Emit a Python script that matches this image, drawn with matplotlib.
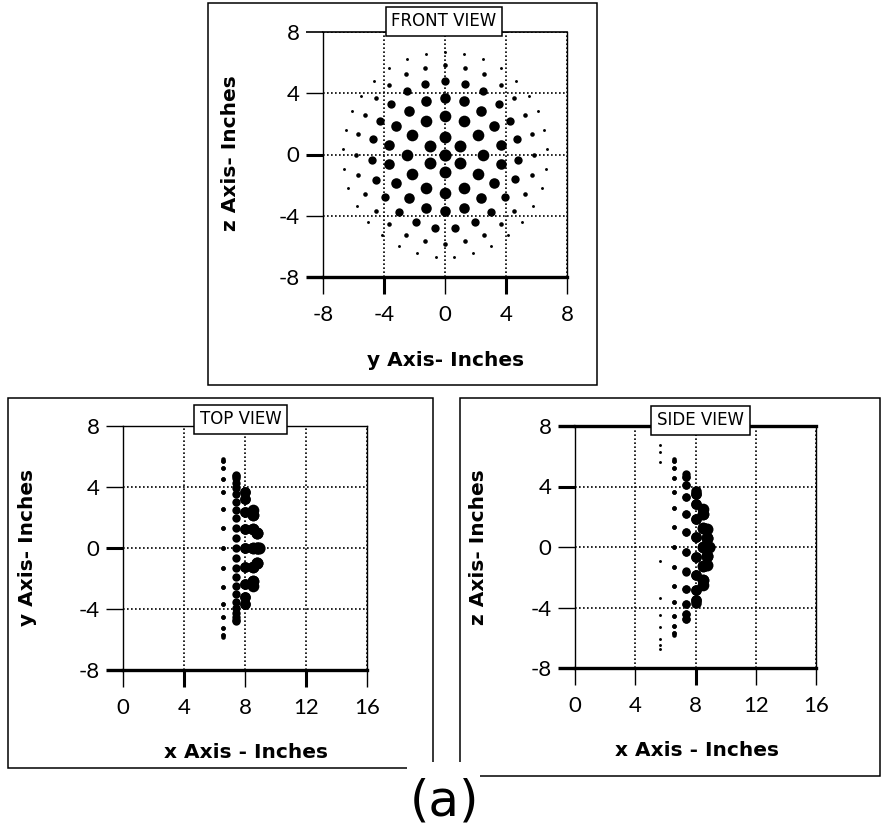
import matplotlib.pyplot as plt
import numpy as np
from matplotlib.patches import Rectangle

plt.rcParams['axes.unicode_minus'] = False #plain hyphen for the minus sign
plt.rcParams['font.family'] = ['Lato', 'DejaVu Sans']

W, H = 882, 834 #figure size in pixels

# Points read from the front view: one ring per entry (radius in inches, angles in degrees)
ring_radius = [0.0, 1.17, 2.5, 3.7, 4.82, 5.83, 6.7]
ring_angles = [
    [0],
    [90, 150, 210, 270, 330, 30],
    [90, 120, 150, 180, 210, 240, 270, 300, 330, 0, 30, 60],
    [90, 110, 130, 150, 170, 190, 210, 230, 250, 270, 290, 310, 330, 350, 10, 30, 50, 70],
    [90, 106, 121, 137, 153, 168, 184, 200, 215, 231, 247, 262, 278, 294, 309, 325, 341, 356,
     12, 27, 43, 59, 74],
    [90, 103, 116, 129, 141, 154, 167, 180, 193, 206, 219, 231, 244, 257, 270, 283, 296, 309,
     321, 334, 347, 0, 13, 26, 39, 51, 64, 77],
    [90, 101, 112, 123, 134, 145, 155, 166, 177, 188, 199, 210, 221, 232, 243, 254, 265, 275,
     286, 297, 308, 319, 330, 341, 352, 3, 14, 25, 35, 46, 57, 68, 79],
]
ring_depth = [8.9, 8.78, 8.5, 8.02, 7.4, 6.58, 5.65] #x position of every ring (top / side views)
ring_dot = [8.8, 8.6, 8.4, 7.6, 6.0, 3.3, 2.1] #dot size of every ring

side_outer_z = [6.73, 6.29, 5.63, -0.95, -3.38, -4.48, -5.3, -6.07, -6.5, -6.73] #outer ring dots seen in side view

front_ticks = [-8, -4, 0, 4, 8]
depth_ticks = [0, 4, 8, 12, 16]


def fx(px): #pixel -> figure fraction
    return px / W

def fy(py):
    return 1 - py / H

def px_axes(left, top, right, bottom):
    return fig.add_axes([fx(left), fy(bottom), (right - left) / W, (bottom - top) / H])

def style_axes(ax, xlim, xticks, xw, yw, top_lw):
    ax.set_xlim(xlim)
    ax.set_ylim(-8, 8)
    ax.set_xticks(xticks)
    ax.set_yticks(front_ticks)
    ax.tick_params(direction='out', length=12, width=1.0, labelsize=16)
    ax.tick_params(axis='x', pad=8)
    ax.tick_params(axis='y', pad=5)
    ax.spines['left'].set_linewidth(1.0)
    ax.spines['right'].set_linewidth(1.0)
    ax.spines['top'].set_linewidth(top_lw)
    ax.spines['bottom'].set_linewidth(2.4)
    ax.grid(True, color='black', linestyle=(0, (1.0, 1.4)), linewidth=1.2)
    for t, w in zip(ax.xaxis.get_major_ticks(), xw):
        t.tick1line.set_markeredgewidth(w)
    for t, w in zip(ax.yaxis.get_major_ticks(), yw):
        t.tick1line.set_markeredgewidth(w)

def view_label(ax, x, y, txt):
    ax.text(x, y, txt, transform=ax.transAxes, ha='center', va='center', fontsize=12,
            family='DejaVu Sans', fontweight='normal', zorder=10, clip_on=False,
            bbox=dict(boxstyle='square,pad=0.35', fc='white', ec='black', lw=1.1))

def axis_text(px, py, txt, rot=0):
    fig.text(fx(px), fy(py), txt, ha='center', va='center', rotation=rot, fontsize=14.5,
             family='DejaVu Sans', fontweight='bold')


fig = plt.figure(figsize=(W / 100, H / 100), dpi=100)

# panel frames
for l, t, r, b in [(208, 3, 597, 385), (8, 398, 433, 768), (460, 398, 880, 776)]:
    fig.add_artist(Rectangle((fx(l), fy(b)), (r - l) / W, (b - t) / H, transform=fig.transFigure,
                             fill=False, ec='black', lw=1.1))

ax_front = px_axes(323, 32, 567, 277)
ax_top = px_axes(123, 426, 367, 670)
ax_side = px_axes(575, 426, 816, 668)

style_axes(ax_front, (-8, 8), front_ticks, [1, 2.2, 1, 2.2, 1], [2.4, 1, 2.2, 1, 1.2], 1.2)
style_axes(ax_top, (0, 16), depth_ticks, [1, 2.2, 1, 2.2, 1], [2.4, 1, 2.2, 1, 1], 1.0)
style_axes(ax_side, (0, 16), depth_ticks, [1, 1, 2.2, 1, 1], [2.4, 1, 1, 2.2, 2.4], 2.4)

for i in range(len(ring_radius)):
    a = np.radians(ring_angles[i])
    y_pos = ring_radius[i] * np.cos(a) #horizontal in front view
    z_pos = ring_radius[i] * np.sin(a) #vertical in front view
    x_pos = np.full(len(a), ring_depth[i])
    ms = ring_dot[i]
    ax_front.plot(y_pos, z_pos, 'o', color='black', ms=ms, mew=0)
    if i < 6: #outer ring is not visible in the top / side views
        ax_top.plot(x_pos, y_pos, 'o', color='black', ms=ms, mew=0)
        ax_side.plot(x_pos, z_pos, 'o', color='black', ms=ms, mew=0)

ax_side.plot(np.full(len(side_outer_z), ring_depth[6]), side_outer_z, 'o', color='black',
             ms=ring_dot[6], mew=0)

view_label(ax_front, 0.496, 1.043, 'FRONT VIEW')
view_label(ax_top, 0.482, 1.027, 'TOP VIEW')
view_label(ax_side, 0.521, 1.023, 'SIDE VIEW')

axis_text(446, 360, 'y Axis- Inches')
axis_text(231, 153, 'z Axis- Inches', 90)
axis_text(246, 752, 'x Axis - Inches')
axis_text(28, 547, 'y Axis- Inches', 90)
axis_text(697, 751, 'x Axis - Inches')
axis_text(478, 547, 'z Axis- Inches', 90)

# white gap behind the (a) caption
fig.add_artist(Rectangle((fx(407), fy(834)), 73 / W, 72 / H, transform=fig.transFigure,
                         fc='white', ec='none'))
fig.text(fx(445), fy(801), '(a)', ha='center', va='center', fontsize=36,
         family='DejaVu Sans', fontweight='normal')

plt.savefig('out.png', dpi=100)
